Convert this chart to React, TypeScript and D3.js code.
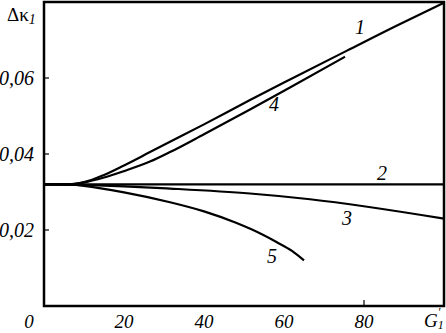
import React, { useEffect, useRef } from 'react';
import * as d3 from 'd3';

// curve data: G1' (x) vs Δκ1 (y)
const curve1X = [0, 6, 10, 15, 20, 26.5, 31.5, 40, 51.5, 61.5, 75.75, 88, 100];
const curve1Y = [0.032, 0.032, 0.0326, 0.0345, 0.037, 0.0405, 0.0432, 0.0478, 0.0542, 0.0596, 0.0672, 0.0737, 0.0798];

const curve2X = [0, 50, 100];
const curve2Y = [0.032, 0.032, 0.032];

const curve3X = [0, 8, 20, 31.5, 51.5, 66.5, 100];
const curve3Y = [0.032, 0.0319, 0.0315, 0.0309, 0.0296, 0.0281, 0.023];

const curve4X = [0, 6, 10, 15, 20, 26.5, 31.5, 40, 51.5, 61.5, 75.25];
const curve4Y = [0.032, 0.032, 0.0325, 0.0338, 0.0355, 0.038, 0.0405, 0.0452, 0.0517, 0.0575, 0.0656];

const curve5X = [0, 6, 10, 20, 31.5, 40, 48, 52, 58, 62, 65];
const curve5Y = [0.032, 0.032, 0.0316, 0.0299, 0.0273, 0.0249, 0.0219, 0.0201, 0.0169, 0.0145, 0.012];

const curveNames = ['1', '2', '3', '4', '5'];
const labelX = [79, 84.5, 75.75, 57.5, 57];
const labelY = [0.0716, 0.0332, 0.0212, 0.0512, 0.0112];

const xTickLabels = ['20', '40', '60', '80'];
const xTickValues = [20, 40, 60, 80];
const xTickMarks = [80];
const yTickValues = [0.02, 0.04, 0.06];
const yTickLabels = ['0,02', '0,04', '0,06'];

const width = 446;
const height = 333;
const margin = { top: 2, right: 2, bottom: 27, left: 44 };

const App: React.FC = () => {
  const svgRef = useRef<SVGSVGElement | null>(null);

  useEffect(() => {
    if (!svgRef.current) {
      return;
    }
    const svg = d3.select(svgRef.current);
    svg.selectAll('*').remove();

    const x = d3.scaleLinear().domain([0, 100]).range([margin.left, width - margin.right]);
    const y = d3.scaleLinear().domain([0, 0.08]).range([height - margin.bottom, margin.top]);

    const font = '"Liberation Serif", "Times New Roman", serif';

    // frame
    svg
      .append('rect')
      .attr('x', x(0))
      .attr('y', y(0.08))
      .attr('width', x(100) - x(0))
      .attr('height', y(0) - y(0.08))
      .attr('fill', 'none')
      .attr('stroke', '#000')
      .attr('stroke-width', 2.5);

    // ticks
    svg
      .selectAll('.ytick')
      .data(yTickValues)
      .join('line')
      .attr('x1', x(0))
      .attr('x2', x(0) + 5)
      .attr('y1', d => y(d))
      .attr('y2', d => y(d))
      .attr('stroke', '#000')
      .attr('stroke-width', 1.2);

    svg
      .selectAll('.xtick')
      .data(xTickMarks)
      .join('line')
      .attr('x1', d => x(d))
      .attr('x2', d => x(d))
      .attr('y1', y(0))
      .attr('y2', y(0) - 6)
      .attr('stroke', '#000')
      .attr('stroke-width', 1.2);

    // tick labels
    svg
      .selectAll('.ylab')
      .data(yTickValues)
      .join('text')
      .attr('x', 34)
      .attr('y', d => y(d) + 7)
      .attr('text-anchor', 'end')
      .attr('font-family', font)
      .attr('font-style', 'italic')
      .attr('font-size', 20)
      .text((_, i) => yTickLabels[i]);

    svg
      .selectAll('.xlab')
      .data(xTickValues)
      .join('text')
      .attr('x', d => x(d))
      .attr('y', 328)
      .attr('text-anchor', 'middle')
      .attr('font-family', font)
      .attr('font-style', 'italic')
      .attr('font-size', 19)
      .text((_, i) => xTickLabels[i]);

    svg
      .append('text')
      .attr('x', x(0) - 15)
      .attr('y', 328)
      .attr('text-anchor', 'middle')
      .attr('font-family', font)
      .attr('font-style', 'italic')
      .attr('font-size', 19)
      .text('0');

    // axis titles
    const yTitle = svg
      .append('text')
      .attr('x', 7)
      .attr('y', 21)
      .attr('font-family', font)
      .attr('font-size', 19);
    yTitle.append('tspan').text('Δκ');
    yTitle.append('tspan').attr('font-style', 'italic').attr('font-size', 14).attr('dy', 3).text('1');

    const xTitle = svg
      .append('text')
      .attr('x', 424)
      .attr('y', 327)
      .attr('font-family', font)
      .attr('font-style', 'italic')
      .attr('font-size', 19);
    xTitle.append('tspan').text('G');
    xTitle.append('tspan').attr('font-size', 12).attr('dy', 2).text('1');
    xTitle.append('tspan').attr('font-size', 12).attr('dx', -6).attr('dy', -13).text('′');

    // curves
    const curves = [
      [curve1X, curve1Y],
      [curve2X, curve2Y],
      [curve3X, curve3Y],
      [curve4X, curve4Y],
      [curve5X, curve5Y],
    ];
    const line = d3
      .line<[number, number]>()
      .x(d => x(d[0]))
      .y(d => y(d[1]))
      .curve(d3.curveMonotoneX);

    curves.forEach(([xs, ys]) => {
      const pts = xs.map((v, i) => [v, ys[i]] as [number, number]);
      svg
        .append('path')
        .datum(pts)
        .attr('fill', 'none')
        .attr('stroke', '#000')
        .attr('stroke-width', 2.2)
        .attr('d', line);
    });

    svg
      .selectAll('.clab')
      .data(curveNames)
      .join('text')
      .attr('x', (_, i) => x(labelX[i]))
      .attr('y', (_, i) => y(labelY[i]))
      .attr('text-anchor', 'middle')
      .attr('font-family', font)
      .attr('font-style', 'italic')
      .attr('font-size', 20)
      .text(d => d);
  }, []);

  return (
    <svg
      ref={svgRef}
      width={width}
      height={height}
      style={{ position: 'absolute', left: 0, top: 0, background: '#fff' }}
    />
  );
};

export default App;
